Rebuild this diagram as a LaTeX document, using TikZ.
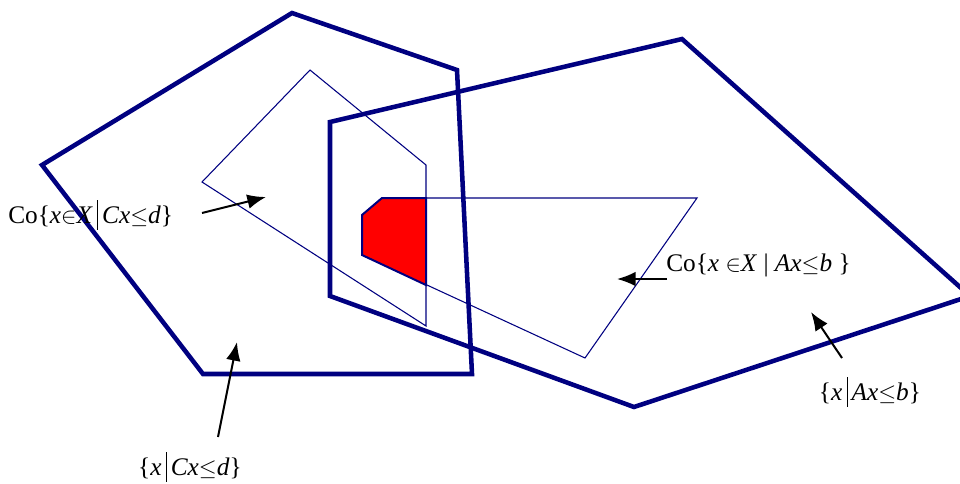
\documentclass[tikz,border=0pt]{standalone}
\usepackage{fontspec}
\setmainfont{Liberation Serif}
\usetikzlibrary{arrows.meta}
\definecolor{navy}{RGB}{0,0,128}
\definecolor{fillred}{RGB}{255,0,0}
\tikzset{
  thickpoly/.style={draw=navy,line width=3.4pt,line join=miter},
  thinpoly/.style={draw=navy,line width=0.8pt},
  pointer/.style={draw=black,line width=1.5pt,-{Latex[length=14pt,width=11pt]}},
  lbl/.style={font=\fontsize{19}{21}\selectfont,inner sep=0pt}
}
\newcommand{\bigbar}{\,\rule[-0.25em]{0.6pt}{1.15em}\,}
\begin{document}
\begin{tikzpicture}[x=0.75pt,y=-0.75pt]
\useasboundingbox (0,0) rectangle (960,483);
\begin{scope}
\clip (0,0) rectangle (960,483);
% left pentagon {x | Cx<=d}
\coordinate (L1) at (42,165);
\coordinate (L2) at (292,13);
\coordinate (L3) at (457,70);
\coordinate (L4) at (472,374);
\coordinate (L5) at (203,374);
\draw[thickpoly] (L1) -- (L2) -- (L3) -- (L4) -- (L5) -- cycle;
% right pentagon {x | Ax<=b}
\coordinate (R1) at (330,122);
\coordinate (R2) at (682,39);
\coordinate (R3) at (970,296);
\coordinate (R4) at (634,407);
\coordinate (R5) at (330,296);
\draw[thickpoly] (R1) -- (R2) -- (R3) -- (R4) -- (R5) -- cycle;
% left convex hull
\coordinate (C1) at (202,182);
\coordinate (C2) at (310,70);
\coordinate (C3) at (426,165);
\coordinate (C4) at (426,326);
\draw[thinpoly] (C1) -- (C2) -- (C3) -- (C4) -- cycle;
% right convex hull
\coordinate (A1) at (362,215);
\coordinate (A2) at (382,198);
\coordinate (A3) at (697,198);
\coordinate (A4) at (585,358);
\coordinate (A5) at (362,255);
\draw[thinpoly] (A1) -- (A2) -- (A3) -- (A4) -- (A5) -- cycle;
% intersection
\coordinate (I3) at (426,198);
\coordinate (I4) at (426,285);
\filldraw[fill=fillred,draw=navy,line width=1.5pt] (A1) -- (A2) -- (I3) -- (I4) -- (A5) -- cycle;
\end{scope}
% labels
\node[lbl,anchor=west] (tCoC) at (8,215) {Co\{\textit{x}$\in$\textit{X}\bigbar\textit{Cx}$\leq$\textit{d}\}};
\node[lbl,anchor=west] (tCoA) at (666,265) {Co\{\textit{x} $\in$\textit{X} | \textit{Ax}$\leq$\textit{b} \}};
\node[lbl] (tA) at (870,392) {\{\textit{x}\bigbar\textit{Ax}$\leq$\textit{b}\}};
\node[lbl] (tC) at (190,467) {\{\textit{x}\bigbar\textit{Cx}$\leq$\textit{d}\}};
% arrows
\coordinate (p1s) at (202,213); \coordinate (p1e) at (266,197);
\coordinate (p2s) at (667,279); \coordinate (p2e) at (617,279);
\coordinate (p3s) at (842,358); \coordinate (p3e) at (811,312);
\coordinate (p4s) at (218,437); \coordinate (p4e) at (237,342);
\draw[pointer] (p1s) -- (p1e);
\draw[pointer] (p2s) -- (p2e);
\draw[pointer] (p3s) -- (p3e);
\draw[pointer] (p4s) -- (p4e);
\end{tikzpicture}
\end{document}
